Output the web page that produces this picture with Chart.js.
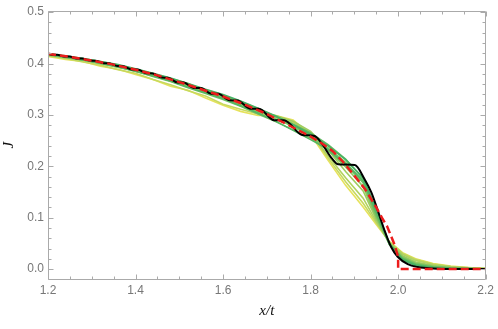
<!DOCTYPE html>
<html><head><meta charset="utf-8">
<script src="https://cdn.jsdelivr.net/npm/chart.js@4/dist/chart.umd.min.js"></script>
<style>html,body{margin:0;padding:0;background:#fff}canvas{display:block}</style>
</head><body>
<canvas id="c" width="498" height="329"></canvas>
<script>
// ---- tick labels / titles ----
const xTickValues = [1.2, 1.4, 1.6, 1.8, 2.0, 2.2];
const xTickLabels = ["1.2", "1.4", "1.6", "1.8", "2.0", "2.2"];
const yTickValues = [0, 0.1, 0.2, 0.3, 0.4, 0.5];
const yTickLabels = ["0.0", "0.1", "0.2", "0.3", "0.4", "0.5"];
const xAxisTitle = "x/t";
const yAxisTitle = "J";

// ---- red dashed curve ----
const xRed = [1.20,1.25,1.30,1.35,1.40,1.45,1.50,1.55,1.60,1.65,1.70,1.75,1.80,1.825,1.85,1.875,1.90,1.925,1.95,1.965,1.975,1.985,1.992,2.00,2.00,2.20];
const jRed = [0.419,0.413,0.406,0.398,0.388,0.377,0.364,0.350,0.336,0.320,0.302,0.280,0.258,0.245,0.230,0.208,0.182,0.155,0.120,0.097,0.083,0.062,0.047,0.024,0.0,0.0];

// ---- black curve ----
const xBlack = [1.200,1.209,1.221,1.237,1.249,1.266,1.278,1.296,1.308,1.327,1.339,1.3585,1.3715,1.391,1.405,1.425,1.439,1.460,1.474,1.496,1.510,1.533,1.549,1.573,1.589,1.615,1.633,1.662,1.682,1.717,1.739,1.781,1.809,1.825,1.848,1.863,1.901,1.924,1.939,1.954,1.969,1.984,1.999,2.022,2.045,2.080,2.120,2.200];
const jBlack = [0.4195,0.4172,0.4170,0.4138,0.4136,0.4100,0.4098,0.4058,0.4056,0.4008,0.4006,0.3951,0.3949,0.3885,0.3883,0.3811,0.3809,0.3727,0.3725,0.3633,0.3631,0.3526,0.3524,0.3414,0.3412,0.3284,0.3282,0.3122,0.3120,0.2898,0.2896,0.2612,0.2592,0.245,0.216,0.204,0.2025,0.174,0.149,0.113,0.075,0.043,0.024,0.0096,0.004,0.001,0,0];

// ---- yellow -> green family ----
const xFan = [1.20,1.24,1.28,1.32,1.36,1.40,1.44,1.48,1.52,1.56,1.60,1.64,1.68,1.72,1.76,1.80,1.84,1.88,1.92,1.95,1.98,2.01,2.04,2.08,2.12,2.16,2.20];
const jFan0 = [.414,.408,.404,.395,.389,.379,.369,.356,.348,.333,.319,.307,.299,.299,.290,.262,.212,.163,.121,.087,.054,.032,.020,.011,.006,.003,.001];
const jFan1 = [.415,.410,.403,.397,.388,.381,.369,.359,.347,.337,.321,.311,.302,.298,.287,.265,.216,.170,.128,.090,.053,.031,.019,.010,.005,.003,.001];
const jFan2 = [.416,.411,.406,.400,.393,.386,.378,.371,.361,.346,.332,.318,.305,.297,.285,.265,.220,.178,.138,.093,.052,.029,.017,.009,.005,.002,.001];
const jFan3 = [.417,.412,.408,.400,.395,.385,.378,.366,.357,.344,.334,.318,.307,.299,.288,.268,.232,.190,.152,.097,.051,.026,.014,.007,.003,.002,.001];
const jFan4 = [.417,.413,.407,.402,.394,.388,.377,.369,.356,.348,.333,.324,.306,.296,.276,.261,.231,.199,.161,.100,.050,.024,.012,.006,.003,.001,0];
const jFan5 = [.418,.413,.409,.402,.396,.387,.379,.368,.359,.346,.337,.321,.310,.292,.279,.259,.236,.208,.170,.103,.049,.022,.011,.005,.002,.001,0];
const jFan6 = [.418,.412,.407,.400,.393,.385,.375,.365,.353,.342,.330,.317,.302,.287,.271,.255,.231,.203,.168,.106,.049,.021,.010,.004,.002,.001,0];
const jFan7 = [.419,.414,.410,.404,.397,.389,.380,.371,.360,.349,.338,.326,.312,.297,.282,.265,.242,.214,.176,.110,.048,.020,.009,.004,.002,.001,0];
const jFan8 = [.418,.413,.407,.401,.394,.385,.376,.366,.354,.343,.332,.318,.304,.288,.270,.252,.233,.205,.172,.112,.049,.019,.008,.003,.001,0,0];
const jFan9 = [.419,.415,.410,.404,.398,.390,.381,.372,.361,.350,.340,.327,.313,.298,.281,.262,.240,.213,.178,.118,.050,.018,.007,.003,.001,0,0];
const fanSeries = [jFan0, jFan1, jFan2, jFan3, jFan4, jFan5, jFan6, jFan7, jFan8, jFan9];

// ---- styling helpers ----
const yellowRGB = [230, 226, 92];
const greenRGB = [70, 178, 100];
function fanColor(k, n) {
  const t = Math.pow(n > 1 ? k / (n - 1) : 0, 0.75);
  const c = yellowRGB.map((a, i) => Math.round(a + (greenRGB[i] - a) * t));
  return `rgb(${c[0]},${c[1]},${c[2]})`;
}
const toPts = (xs, ys) => xs.map((x, i) => ({x: x, y: ys[i]}));

const datasets = [
  {data: toPts(xRed, jRed), borderColor: '#ec1c1c', borderWidth: 2.5, borderDash: [8, 4],
   pointRadius: 0, tension: 0, order: 0},
  {data: toPts(xBlack, jBlack), borderColor: '#000000', borderWidth: 2, pointRadius: 0,
   cubicInterpolationMode: 'monotone', order: 1}
];
fanSeries.forEach((ys, k) => {
  datasets.push({data: toPts(xFan, ys), borderColor: fanColor(k, fanSeries.length), borderWidth: 1.6,
    pointRadius: 0, tension: 0, order: 30 - k});
});

// frame with inward major/minor ticks on all four sides
const frameTicks = {
  id: 'frameTicks',
  afterDraw(chart) {
    const {ctx, chartArea: a, scales: {x, y}} = chart;
    const L = Math.round(a.left) + 0.5, R = Math.round(a.right) - 0.5;
    const T = Math.round(a.top) + 0.5, B = Math.round(a.bottom) + 0.5;
    ctx.save();
    ctx.strokeStyle = '#aaaaaa';
    ctx.lineWidth = 1;
    ctx.beginPath();
    ctx.moveTo(L, T); ctx.lineTo(R, T); ctx.lineTo(R, B); ctx.lineTo(L, B); ctx.closePath();
    for (let i = 0; i <= 20; i++) {
      const v = 1.2 + 0.05 * i;
      const len = (i % 4 === 0) ? 5 : 3;
      const px = Math.round(x.getPixelForValue(v)) + 0.5;
      ctx.moveTo(px, B); ctx.lineTo(px, B - len);
      ctx.moveTo(px, T); ctx.lineTo(px, T + len);
    }
    for (let i = 0; i <= 25; i++) {
      const v = 0.02 * i;
      const len = (i % 5 === 0) ? 5 : 3;
      const py = Math.round(y.getPixelForValue(v)) + 0.5;
      ctx.moveTo(L, py); ctx.lineTo(L + len, py);
      ctx.moveTo(R, py); ctx.lineTo(R - len, py);
    }
    ctx.stroke();
    ctx.restore();
  }
};

const tickFont = {family: 'Liberation Sans', size: 12};
new Chart(document.getElementById('c'), {
  type: 'line',
  data: {datasets: datasets},
  options: {
    responsive: false,
    animation: false,
    events: [],
    layout: {padding: {top: 8, right: 10, left: 0, bottom: 0}},
    plugins: {legend: {display: false}, tooltip: {enabled: false}},
    scales: {
      x: {
        type: 'linear', min: 1.2, max: 2.2,
        afterBuildTicks: s => { s.ticks = xTickValues.map(v => ({value: v})); },
        ticks: {callback: (v) => xTickLabels[xTickValues.findIndex(t => Math.abs(t - v) < 1e-9)],
                color: '#777777', font: tickFont, padding: 4, maxRotation: 0, autoSkip: false},
        grid: {display: false, drawTicks: false},
        border: {display: false},
        title: {display: true, text: xAxisTitle, color: '#111111',
                font: {family: 'Liberation Serif', style: 'italic', size: 15}, padding: {top: 0, bottom: 9}},
        afterFit: s => { s.height = 50; }
      },
      y: {
        type: 'linear', min: -0.01923, max: 0.50192,
        afterBuildTicks: s => { s.ticks = yTickValues.map(v => ({value: v})); },
        ticks: {callback: (v) => yTickLabels[yTickValues.findIndex(t => Math.abs(t - v) < 1e-9)],
                color: '#777777', font: tickFont, padding: 4, autoSkip: false},
        grid: {display: false, drawTicks: false},
        border: {display: false},
        title: {display: true, text: yAxisTitle, color: '#111111',
                font: {family: 'Liberation Serif', style: 'italic', size: 15}, padding: {top: 0, bottom: 0}},
        afterFit: s => { s.width = 48; }
      }
    }
  },
  plugins: [frameTicks]
});
</script>
</body></html>
